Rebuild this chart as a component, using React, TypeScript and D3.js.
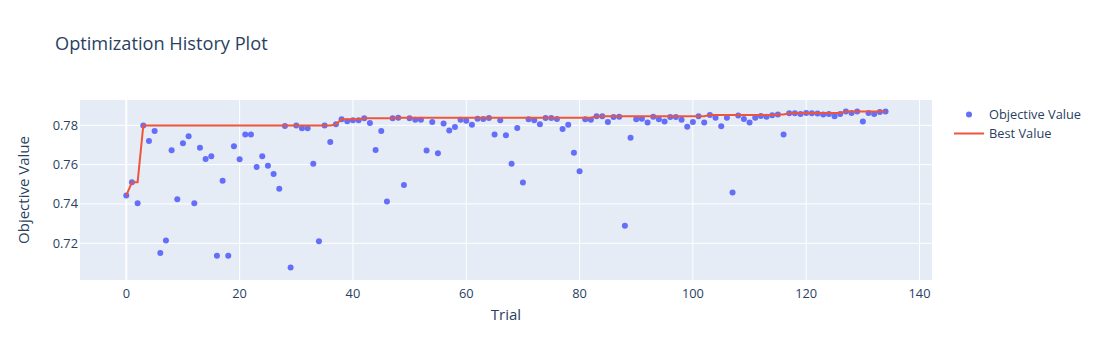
import React from "react";
import * as d3 from "d3";

const trials: number[] = Array.from({ length: 135 }, (_, i) => i);
const objectiveValues: number[] = [
  0.7443, 0.7511, 0.7403, 0.7799, 0.7720, 0.7771, 0.7150, 0.7214, 0.7673, 0.7424,
  0.7709, 0.7745, 0.7403, 0.7686, 0.7629, 0.7643, 0.7137, 0.7518, 0.7137, 0.7694,
  0.7627, 0.7753, 0.7753, 0.7588, 0.7643, 0.7595, 0.7552, 0.7477, 0.7797, 0.7077,
  0.7799, 0.7785, 0.7785, 0.7605, 0.7210, 0.7799, 0.7715, 0.7805, 0.7831, 0.7821,
  0.7826, 0.7826, 0.7836, 0.7812, 0.7675, 0.7771, 0.7412, 0.7836, 0.7839, 0.7496,
  0.7836, 0.7829, 0.7828, 0.7672, 0.7817, 0.7658, 0.7810, 0.7774, 0.7791, 0.7829,
  0.7824, 0.7803, 0.7834, 0.7832, 0.7838, 0.7754, 0.7826, 0.7750, 0.7605, 0.7786,
  0.7509, 0.7831, 0.7826, 0.7805, 0.7838, 0.7838, 0.7832, 0.7781, 0.7803, 0.7660,
  0.7566, 0.7831, 0.7828, 0.7846, 0.7846, 0.7817, 0.7843, 0.7844, 0.7289, 0.7737,
  0.7831, 0.7833, 0.7814, 0.7844, 0.7831, 0.7819, 0.7843, 0.7843, 0.7829, 0.7793,
  0.7817, 0.7846, 0.7814, 0.7853, 0.7839, 0.7795, 0.7839, 0.7458, 0.7850, 0.7832,
  0.7814, 0.7839, 0.7848, 0.7844, 0.7851, 0.7855, 0.7754, 0.7862, 0.7862, 0.7858,
  0.7863, 0.7862, 0.7860, 0.7855, 0.7858, 0.7846, 0.7858, 0.7870, 0.7863, 0.7870,
  0.7819, 0.7863, 0.7858, 0.7868, 0.7870,
];
const xTicks: number[] = [0, 20, 40, 60, 80, 100, 120, 140];
const yTicks: number[] = [0.72, 0.74, 0.76, 0.78];

const W = 1100;
const H = 360;
const M = { left: 80, right: 168, top: 100, bottom: 80 };
const FONT = '"Open Sans", verdana, arial, sans-serif';
const TXT = "#2a3f5f";
const TICK_FS = 12.8;

export default function App() {
  const x = d3.scaleLinear().domain([-8.17, 142.2]).range([M.left, W - M.right]);
  const y = d3.scaleLinear().domain([0.7013, 0.7929]).range([H - M.bottom, M.top]);

  let best = -Infinity;
  const bestValues = objectiveValues.map((v) => (best = Math.max(best, v)));
  const line = d3
    .line<number>()
    .x((_, i) => x(trials[i]))
    .y((d) => y(d));

  return (
    <svg
      width={W}
      height={H}
      style={{ position: "absolute", left: 0, top: 0, background: "#fff" }}
      fontFamily={FONT}
    >
      <rect x={M.left} y={M.top} width={W - M.right - M.left} height={H - M.bottom - M.top} fill="#e5ecf6" />
      {xTicks.map((t) => (
        <line key={"gx" + t} x1={x(t)} x2={x(t)} y1={M.top} y2={H - M.bottom} stroke="#fff" strokeWidth={t === 0 ? 2 : 1} />
      ))}
      {yTicks.map((t) => (
        <line key={"gy" + t} x1={M.left} x2={W - M.right} y1={y(t)} y2={y(t)} stroke="#fff" strokeWidth={1} />
      ))}
      {xTicks.map((t) => (
        <text key={"tx" + t} x={x(t)} y={H - M.bottom + 17.5} textAnchor="middle" fontSize={TICK_FS} fill={TXT}>
          {t}
        </text>
      ))}
      {yTicks.map((t) => (
        <text key={"ty" + t} x={M.left - 2} y={y(t)} dy="0.35em" textAnchor="end" fontSize={TICK_FS} fill={TXT}>
          {t.toFixed(2)}
        </text>
      ))}
      <g>
        {objectiveValues.map((v, i) => (
          <circle key={"p" + i} cx={x(trials[i])} cy={y(v)} r={3} fill="#636efa" />
        ))}
      </g>
      <path d={line(bestValues) || ""} fill="none" stroke="#ef553b" strokeWidth={2} />
      <text x={55} y={50} fontSize={18.2} fill={TXT}>
        Optimization History Plot
      </text>
      <text x={(M.left + W - M.right) / 2} y={319.5} textAnchor="middle" fontSize={15} fill={TXT}>
        Trial
      </text>
      <text
        transform={`translate(28.5,${(M.top + H - M.bottom) / 2}) rotate(-90)`}
        textAnchor="middle"
        fontSize={15}
        fill={TXT}
      >
        Objective Value
      </text>
      <g>
        <circle cx={969} cy={114.5} r={3} fill="#636efa" />
        <text x={989} y={114.5} dy="0.35em" fontSize={TICK_FS} fill={TXT}>
          Objective Value
        </text>
        <line x1={954} x2={984} y1={133.5} y2={133.5} stroke="#ef553b" strokeWidth={2} />
        <text x={989} y={133.5} dy="0.35em" fontSize={TICK_FS} fill={TXT}>
          Best Value
        </text>
      </g>
    </svg>
  );
}
